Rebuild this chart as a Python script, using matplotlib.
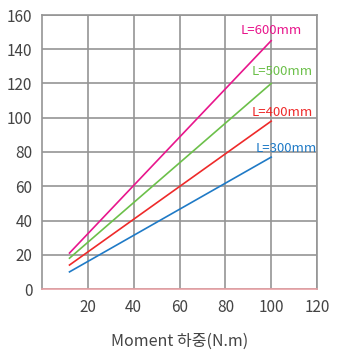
import matplotlib
matplotlib.use("Agg")
import matplotlib.pyplot as plt

plt.rcParams['font.family'] = ['Noto Sans CJK KR', 'DejaVu Sans']

x_vals = [12, 100]
series_names = ["L=600mm", "L=500mm", "L=400mm", "L=300mm"]
series_values = [
    [21, 145],
    [18, 120],
    [14, 98],
    [10, 77],
]
colors = ["#e8168c", "#6cc04a", "#ee2a2a", "#1f7ac6"]
label_pos = [(86.8, 151), (91.6, 127), (91.6, 103), (93.4, 82)]
x_ticks = [20, 40, 60, 80, 100, 120]
y_ticks = [0, 20, 40, 60, 80, 100, 120, 140, 160]

fig = plt.figure(figsize=(3.45, 3.51), dpi=100)
ax = fig.add_axes([42/345, 1-289/351, 275/345, 274/351])
ax.set_xlim(0, 120)
ax.set_ylim(0, 160)

for name, vals, c, (lx, ly) in zip(series_names, series_values, colors, label_pos):
    ax.plot(x_vals, vals, color=c, lw=1.2, zorder=3)
    ax.text(lx, ly, name, color=c, fontsize=9.5, va='center', ha='left',
            fontweight='light', zorder=4)

ax.set_xticks(x_ticks)
ax.set_yticks(y_ticks)
ax.grid(True, color='#959595', lw=1.2)
ax.set_axisbelow(True)
for s in ['left', 'right', 'top']:
    ax.spines[s].set_color('#959595')
    ax.spines[s].set_linewidth(1.2)
ax.spines['bottom'].set_color('#e8a0a4')
ax.spines['bottom'].set_linewidth(1.2)
ax.spines['bottom'].set_zorder(5)
ax.tick_params(length=0, labelsize=11, colors='#444444', pad=7)
for lab in ax.get_xticklabels() + ax.get_yticklabels():
    lab.set_fontweight('light')
ax.set_xlabel("Moment 하중(N.m)", fontsize=11.5, color='#444444', labelpad=12,
              fontweight='light')

fig.savefig("out.png", dpi=100)
